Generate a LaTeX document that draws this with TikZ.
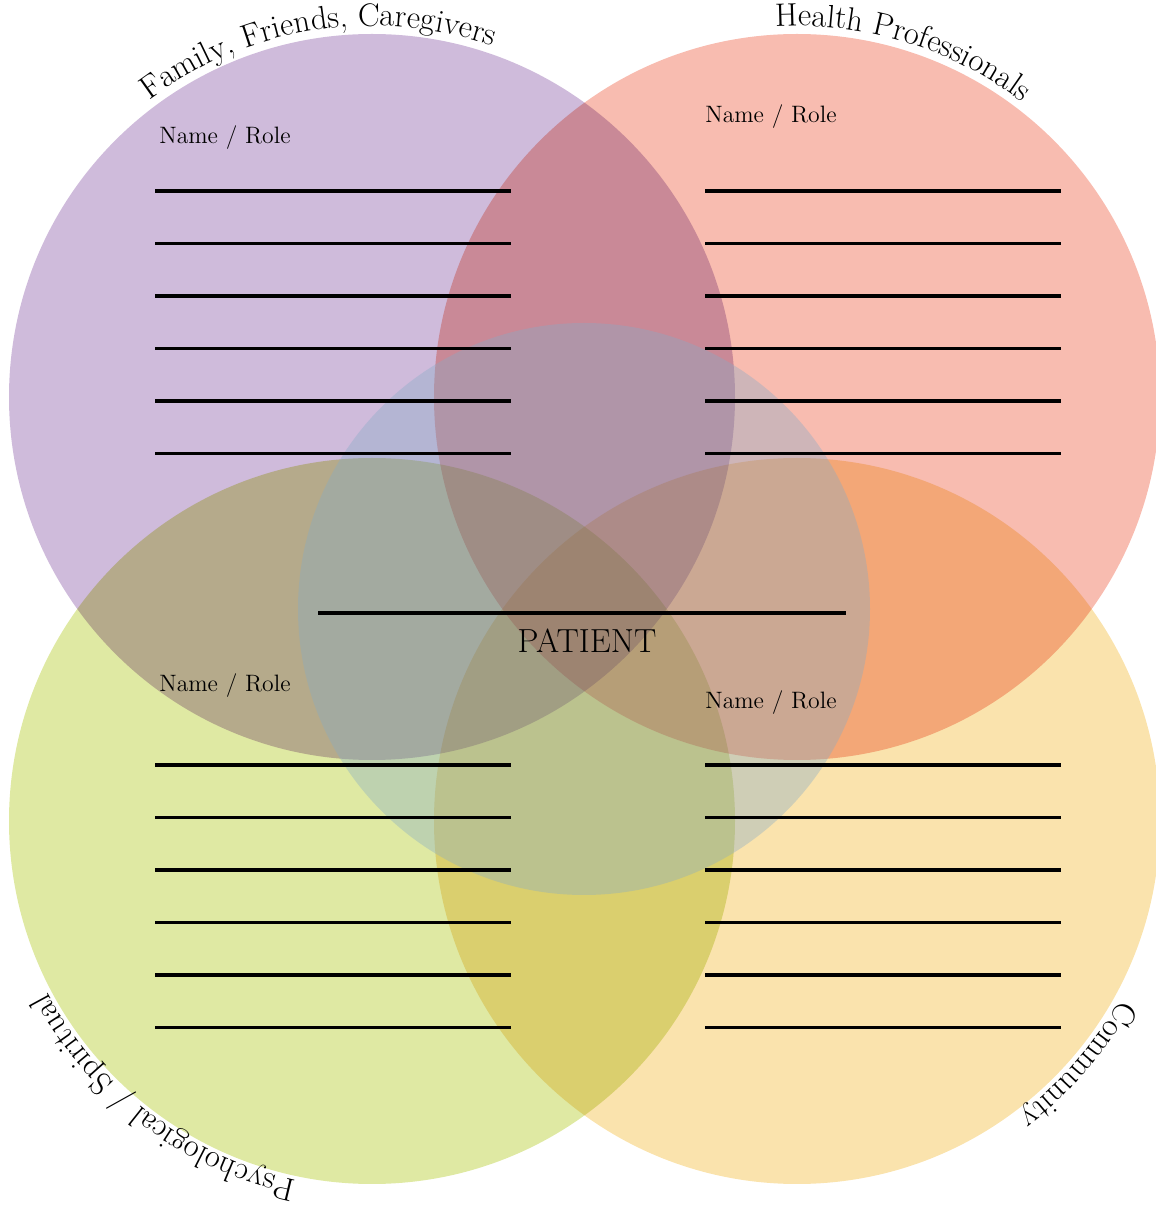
\documentclass[tikz,border=0pt]{standalone}
\usetikzlibrary{decorations.text}
\definecolor{famcol}{HTML}{CFBBDB}
\definecolor{procol}{HTML}{F8BCB0}
\definecolor{psycol}{HTML}{DFE9A3}
\definecolor{comcol}{HTML}{FAE3AD}
\definecolor{patcol}{HTML}{85ABC7}
\newcommand{\ringfont}{\fontsize{18.5}{21}\selectfont}

\begin{document}
\begin{tikzpicture}[
        x=0.02cm, y=0.02cm,
        rule/.style={line width=0.07cm},
        rolelabel/.style={anchor=base west, inner sep=0pt, font=\fontsize{13.5}{15}\selectfont},
        arctext/.style={decorate, decoration={text along path, text align=center,
                text={|\ringfont|#1}}}
    ]
    \useasboundingbox (0,0) rectangle (1156,1205);
    \coordinate (fam) at (372,808);
    \coordinate (pro) at (797,808);
    \coordinate (psy) at (372,384);
    \coordinate (com) at (797,384);
    \coordinate (pat) at (584,596);

    \begin{scope}[blend mode=multiply]
        \fill[famcol] (fam) circle[radius=363];
        \fill[procol] (pro) circle[radius=363];
        \fill[psycol] (psy) circle[radius=363];
        \fill[comcol] (com) circle[radius=363];
    \end{scope}
    \fill[patcol, opacity=0.36] (pat) circle[radius=286];

    \path[arctext={Family, Friends, Caregivers}] ([shift={(139:371)}]fam) arc[start angle=139, end angle=59, radius=371];
    \path[arctext={Health Professionals}] ([shift={(113:371)}]pro) arc[start angle=113, end angle=33, radius=371];
    \path[arctext={Psychological / Spiritual}] ([shift={(273:367)}]psy) arc[start angle=273, end angle=193, radius=367];
    \path[arctext={Community}] ([shift={(-1:369)}]com) arc[start angle=-1, end angle=-81, radius=369];

    \node[rolelabel] (famrole) at (159,1061) {Name / Role};
    \node[rolelabel] (prorole) at (705,1082) {Name / Role};
    \node[rolelabel] (psyrole) at (159,513) {Name / Role};
    \node[rolelabel] (comrole) at (705,496) {Name / Role};

    \foreach \k in {0,...,5} {
        \draw[rule] (155,1014-52.5*\k) -- (511,1014-52.5*\k);
        \draw[rule] (705,1014-52.5*\k) -- (1061,1014-52.5*\k);
        \draw[rule] (155,440-52.5*\k) -- (511,440-52.5*\k);
        \draw[rule] (705,440-52.5*\k) -- (1061,440-52.5*\k);
    }

    \coordinate (patleft) at (318,592);
    \coordinate (patright) at (846,592);
    \draw[rule] (patleft) -- (patright);
    \node[anchor=base, font=\fontsize{19}{22}\selectfont] (patient) at (587,552) {PATIENT};
\end{tikzpicture}
\end{document}
